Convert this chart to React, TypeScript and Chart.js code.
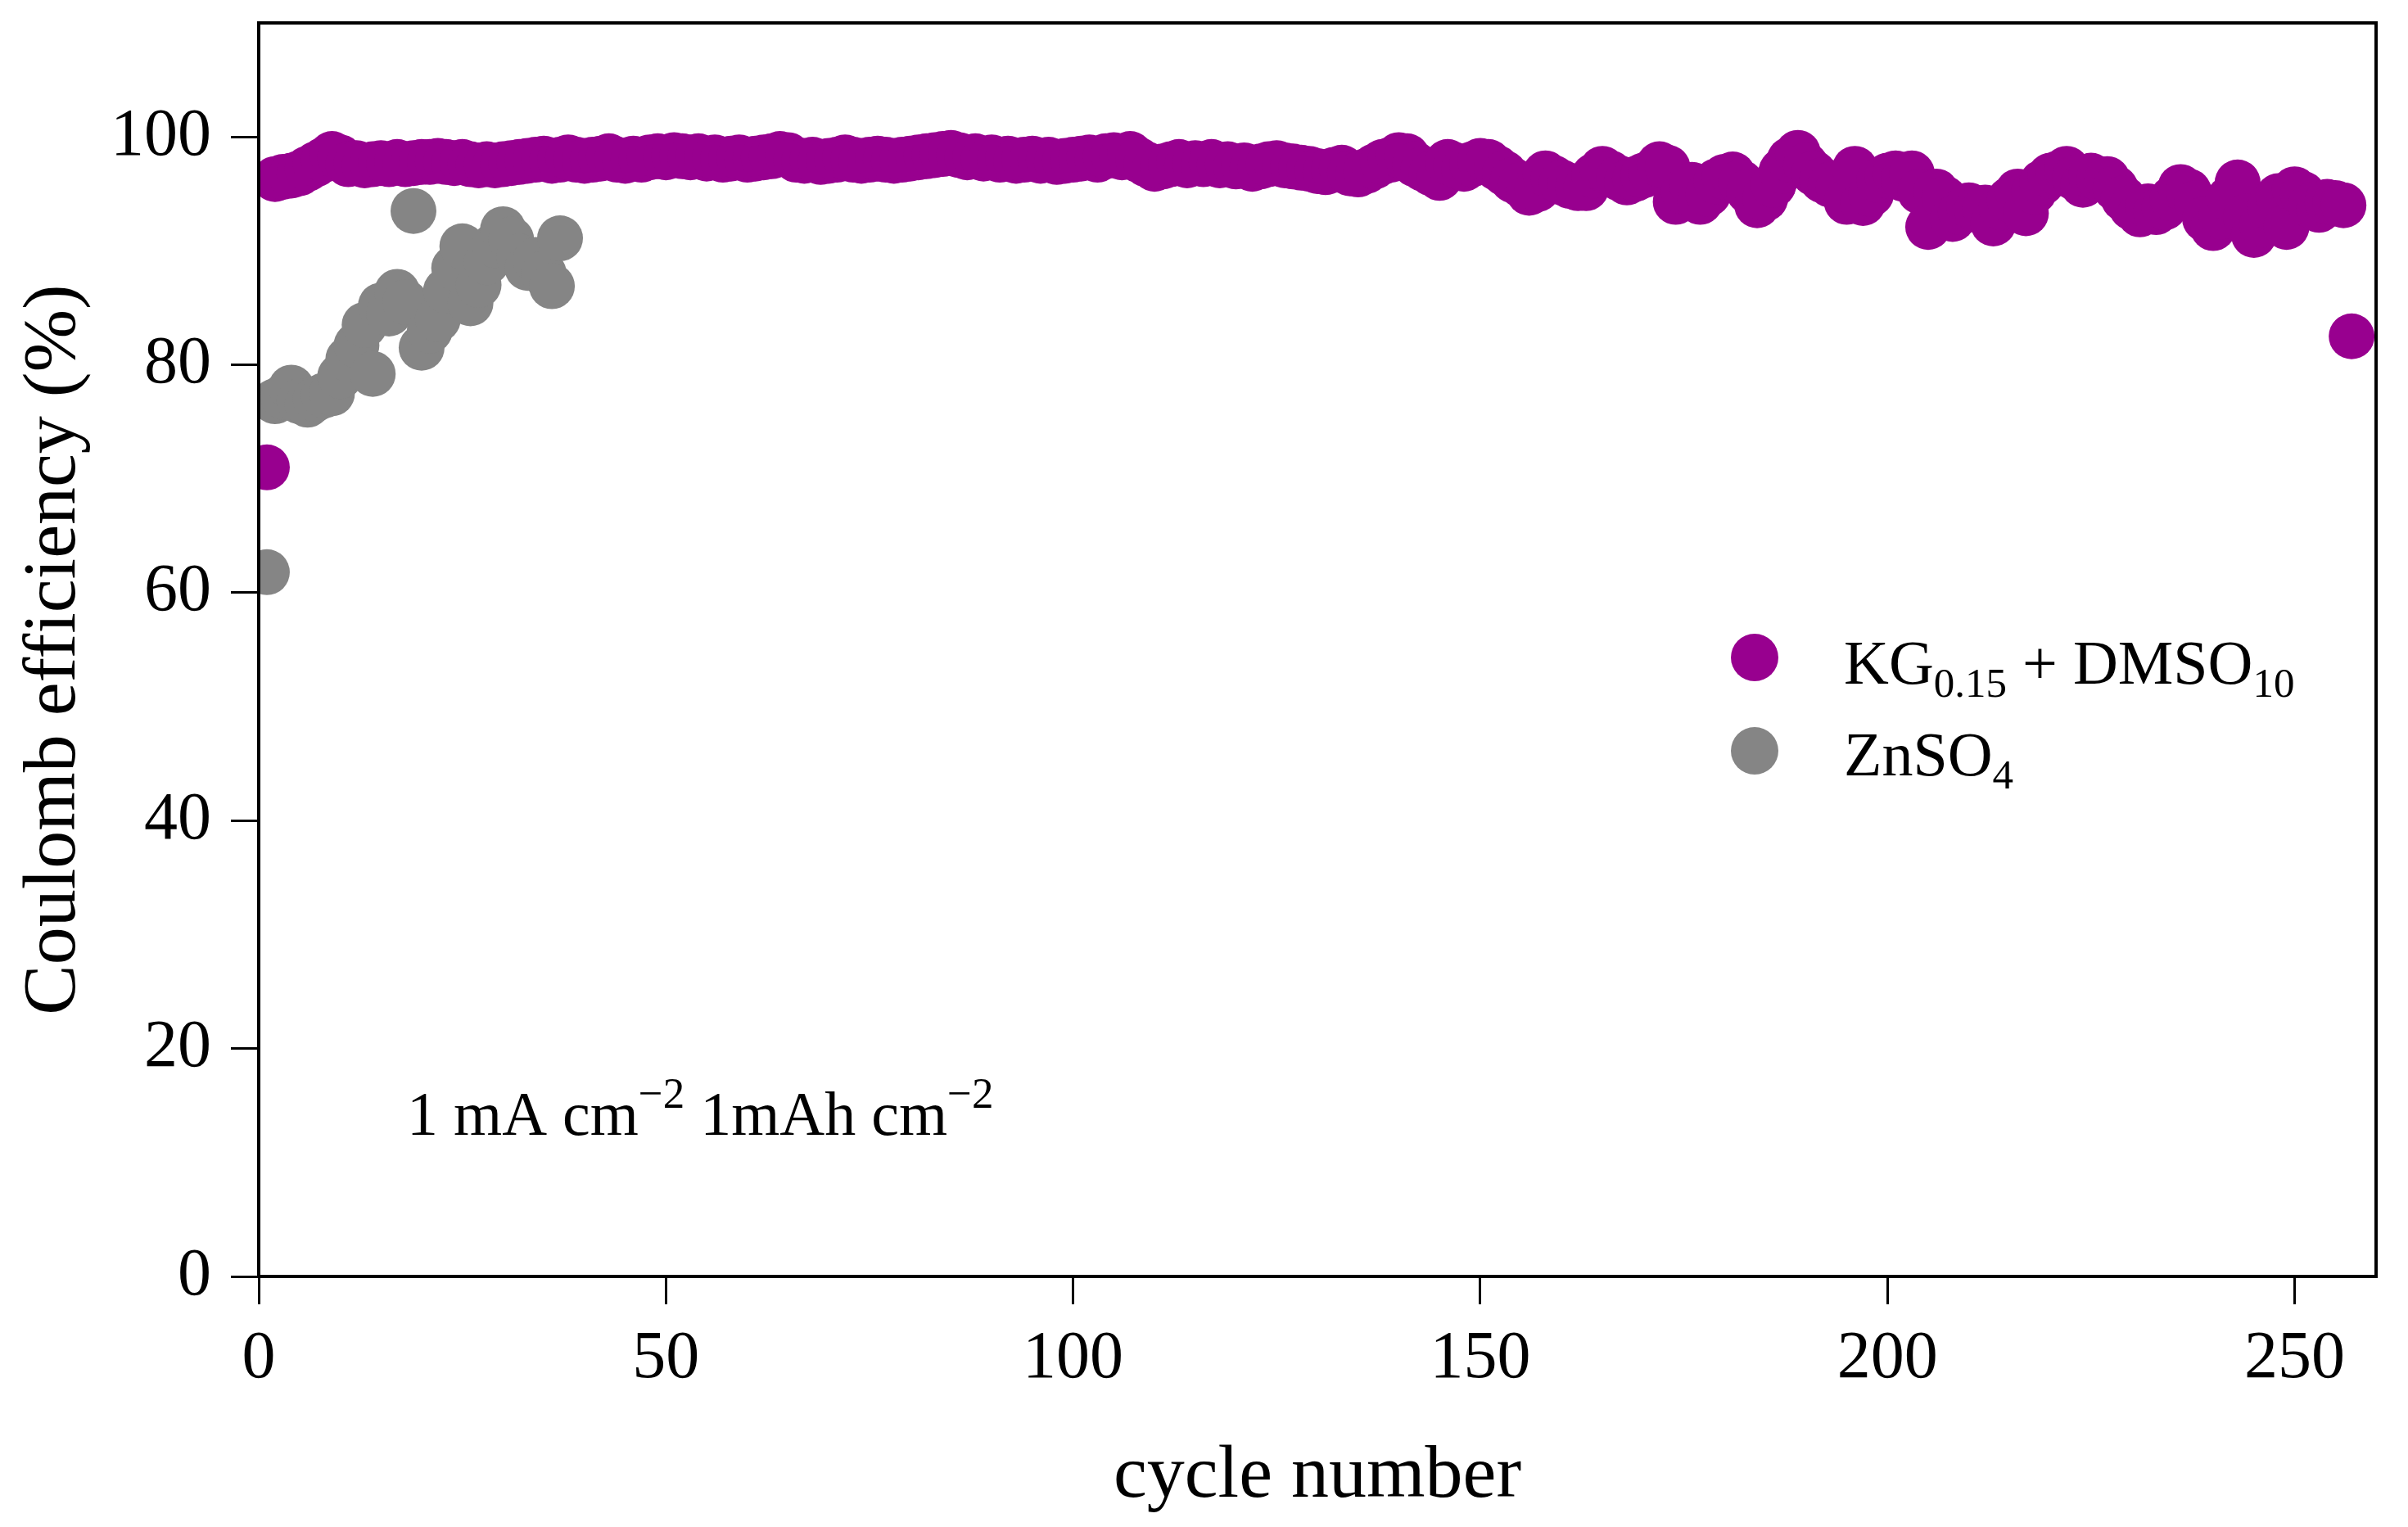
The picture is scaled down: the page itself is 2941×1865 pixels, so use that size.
import { useEffect, useRef } from 'react';
import { Chart, registerables } from 'chart.js';

Chart.register(...registerables);

const FONT = "'Liberation Serif', 'Times New Roman', serif";
const PURPLE = '#98008f';
const GREY = '#858585';

// cycle number starts at 1 for both cells
const firstCycle = 1;

// KG0.15 + DMSO10, Coulomb efficiency per cycle (%)
const kgEfficiency = [
  71.0, 96.3, 96.5, 96.6, 96.8, 97.2, 97.6, 98.0, 98.5, 98.2,
  97.6, 97.7, 97.5, 97.6, 97.7, 97.6, 97.8, 97.6, 97.7, 97.8,
  97.8, 97.9, 97.8, 97.7, 97.8, 97.6, 97.5, 97.6, 97.5, 97.6,
  97.7, 97.8, 97.9, 98.0, 98.1, 97.9, 98.0, 98.2, 98.0, 97.9,
  98.0, 98.1, 98.3, 98.0, 97.9, 98.1, 98.0, 98.2, 98.3, 98.2,
  98.4, 98.3, 98.2, 98.3, 98.1, 98.2, 98.0, 98.1, 98.2, 98.0,
  98.1, 98.2, 98.3, 98.5, 98.4, 98.0, 97.9, 98.0, 97.8, 97.9,
  98.0, 98.2, 98.0, 97.9, 98.0, 98.1, 98.0, 97.9, 98.0, 98.1,
  98.2, 98.3, 98.4, 98.5, 98.6, 98.4, 98.2, 98.3, 98.1, 98.2,
  98.0, 98.1, 97.9, 98.0, 98.1, 97.9, 98.0, 97.8, 97.9, 98.0,
  98.1, 98.2, 98.0, 98.3, 98.4, 98.2, 98.5, 98.0, 97.6, 97.2,
  97.4, 97.6, 97.8, 97.5, 97.7, 97.6, 97.8, 97.5, 97.6, 97.4,
  97.5, 97.2, 97.4, 97.6, 97.7, 97.5, 97.4, 97.3, 97.2, 97.0,
  96.9, 97.1, 97.3, 96.8, 96.7, 97.0, 97.4, 97.8, 98.0, 98.4,
  98.3, 97.6, 97.2, 96.8, 96.4, 97.8, 97.5, 97.2, 97.6, 97.9,
  97.8, 97.3, 96.8, 96.2, 95.8, 95.1, 95.4, 96.8, 96.4, 96.0,
  95.7, 95.5, 95.5, 96.6, 97.2, 96.8, 96.4, 96.0, 96.3, 96.6,
  96.9, 97.6, 97.3, 94.3, 95.2, 95.8, 94.3, 95.0, 96.1, 96.5,
  96.7, 96.0, 95.2, 94.0, 94.6, 95.8, 97.0, 98.0, 98.6, 97.5,
  96.8, 96.2, 95.8, 95.6, 94.3, 97.2, 94.2, 95.0, 96.2, 96.6,
  96.8, 96.3, 96.8, 95.2, 92.1, 95.2, 94.6, 92.8, 93.4, 94.0,
  93.6, 93.8, 92.4, 93.8, 94.5, 95.2, 93.3, 95.2, 96.0, 96.6,
  96.8, 97.2, 96.4, 95.8, 96.6, 96.3, 96.3, 95.5, 94.6, 93.8,
  93.2, 93.9, 93.4, 93.8, 94.6, 95.6, 95.2, 94.2, 92.8, 92.0,
  93.0, 94.6, 96.0, 93.0, 91.4, 92.3, 93.8, 94.8, 92.1, 95.4,
  95.0, 94.0, 93.6, 94.3, 94.2, 94.0, 82.5,
];

// ZnSO4, Coulomb efficiency per cycle (%)
const znEfficiency = [
  61.8, 76.8, 77.2, 78.0, 76.8, 76.5, 77.0, 77.3, 77.5, 79.0,
  80.5, 81.7, 83.5, 79.2, 85.2, 84.5, 86.4, 85.5, 93.5, 81.5,
  83.0, 84.0, 86.5, 88.5, 90.4, 85.4, 87.0, 89.0, 90.5, 91.9,
  91.0, 89.5, 88.5, 89.2, 88.0, 86.9, 91.1,
];

const seriesNames = ['KG', 'ZnSO'];
const xTicks = [0, 50, 100, 150, 200, 250];
const yTicks = [0, 20, 40, 60, 80, 100];

// annotation anchor, in data units
const noteAt = { x: 18.2, y: 12.4 };

type Part = { text: string; size: number; dy: number };

const drawParts = (ctx: CanvasRenderingContext2D, x: number, y: number, parts: Part[]) => {
  let cx = x;
  parts.forEach((p) => {
    ctx.font = `${p.size}px ${FONT}`;
    ctx.fillText(p.text, cx, y + p.dy);
    cx += ctx.measureText(p.text).width;
  });
};

const extrasPlugin = {
  id: 'extras',
  afterDraw(chart: any) {
    const { ctx, chartArea: a, scales } = chart;
    ctx.save();
    // box round the plot
    ctx.strokeStyle = '#000';
    ctx.lineWidth = 4;
    ctx.strokeRect(a.left, a.top, a.right - a.left, a.bottom - a.top);

    ctx.fillStyle = '#000';
    ctx.textBaseline = 'alphabetic';
    ctx.textAlign = 'left';

    // current density note
    const nx = scales.x.getPixelForValue(noteAt.x);
    const ny = scales.y.getPixelForValue(noteAt.y);
    drawParts(ctx, nx, ny, [
      { text: '1 mA cm', size: 76, dy: 0 },
      { text: '\u22122', size: 53, dy: -33 },
      { text: ' 1mAh cm', size: 76, dy: 0 },
      { text: '\u22122', size: 53, dy: -33 },
    ]);

    // legend
    const mx = 2143;
    const tx = 2252;
    const rows = [
      { color: PURPLE, cy: 803, base: 835, parts: [
        { text: seriesNames[0], size: 76, dy: 0 },
        { text: '0.15', size: 51, dy: 16 },
        { text: ' + DMSO', size: 76, dy: 0 },
        { text: '10', size: 51, dy: 16 },
      ] },
      { color: GREY, cy: 917, base: 947, parts: [
        { text: seriesNames[1], size: 76, dy: 0 },
        { text: '4', size: 51, dy: 16 },
      ] },
    ];
    rows.forEach((r) => {
      ctx.fillStyle = r.color;
      ctx.beginPath();
      ctx.arc(mx, r.cy, 29, 0, Math.PI * 2);
      ctx.fill();
      ctx.fillStyle = '#000';
      drawParts(ctx, tx, r.base, r.parts);
    });
    ctx.restore();
  },
};

const CoulombChart = () => {
  const chartRef = useRef<HTMLCanvasElement | null>(null);

  useEffect(() => {
    const ctx = chartRef.current?.getContext('2d');
    if (!ctx) return;

    const kgPoints = kgEfficiency.map((v, i) => ({ x: firstCycle + i, y: v }));
    const znPoints = znEfficiency.map((v, i) => ({ x: firstCycle + i, y: v }));

    const tickFont = { family: FONT, size: 82 };
    const titleFont = { family: FONT, size: 92 };
    const grid = {
      drawOnChartArea: false,
      drawTicks: true,
      tickLength: 34,
      tickWidth: 3,
      tickColor: '#000',
    };

    const myChart = new Chart(ctx, {
      type: 'scatter',
      data: {
        datasets: [
          {
            label: 'KG0.15 + DMSO10',
            data: kgPoints,
            backgroundColor: PURPLE,
            pointRadius: 28,
            pointBorderWidth: 0,
            clip: 0,
          },
          {
            label: 'ZnSO4',
            data: znPoints,
            backgroundColor: GREY,
            pointRadius: 28,
            pointBorderWidth: 0,
            clip: 0,
          },
        ],
      },
      options: {
        responsive: false,
        animation: false,
        devicePixelRatio: 1,
        layout: { padding: { left: 0, top: 28, right: 39, bottom: 0 } },
        plugins: {
          legend: { display: false },
          tooltip: { enabled: false },
        },
        scales: {
          x: {
            type: 'linear',
            min: 0,
            max: 260,
            afterFit: (s: any) => {
              s.height = 306;
              s.paddingLeft = 0;
              s.paddingRight = 0;
            },
            afterBuildTicks: (s: any) => { s.ticks = xTicks.map((v) => ({ value: v })); },
            ticks: { font: tickFont, color: '#000', padding: 18, maxRotation: 0, autoSkip: false },
            grid,
            border: { color: '#000', width: 4 },
            title: {
              display: true,
              text: 'cycle number',
              font: titleFont,
              color: '#000',
              padding: { top: 0, bottom: 6 },
            },
          },
          y: {
            type: 'linear',
            min: 0,
            max: 110,
            afterFit: (s: any) => {
              s.width = 316;
              s.paddingTop = 0;
              s.paddingBottom = 0;
            },
            afterBuildTicks: (s: any) => { s.ticks = yTicks.map((v) => ({ value: v })); },
            ticks: { font: tickFont, color: '#000', padding: 24, autoSkip: false },
            grid,
            border: { color: '#000', width: 4 },
            title: {
              display: true,
              text: 'Coulomb efficiency (%)',
              font: titleFont,
              color: '#000',
              padding: { top: 12, bottom: 0 },
            },
          },
        },
      },
      plugins: [extrasPlugin],
    } as any);

    return () => {
      myChart.destroy();
    };
  }, []);

  return (
    <div style={{ position: 'absolute', left: 0, top: 0, width: 2941, height: 1865, background: '#fff' }}>
      <canvas ref={chartRef} width={2941} height={1865} />
    </div>
  );
};

export default function App() {
  return <CoulombChart />;
}
